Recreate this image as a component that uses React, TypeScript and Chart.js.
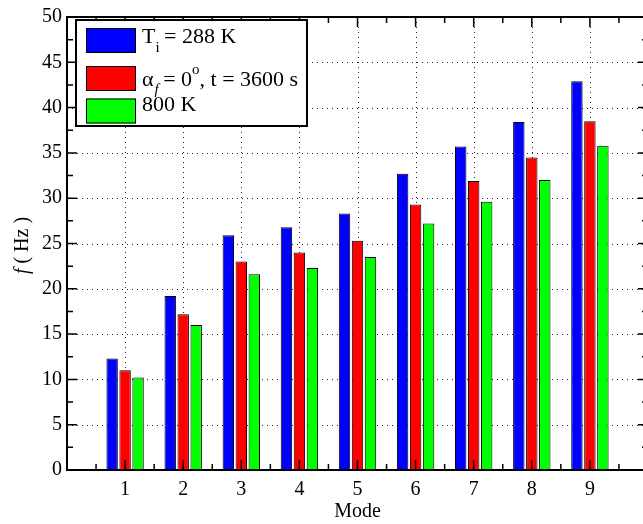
import React, { useEffect, useRef } from "react";
import { Chart, registerables } from "chart.js";

Chart.register(...registerables);

// Natural frequencies per vibration mode
const modes = [1, 2, 3, 4, 5, 6, 7, 8, 9];
const freqT288 = [12.3, 19.2, 25.9, 26.8, 28.3, 32.7, 35.7, 38.4, 42.9];
const freqAlpha0 = [11.0, 17.2, 23.0, 24.0, 25.3, 29.3, 31.9, 34.5, 38.5];
const freq800K = [10.2, 16.0, 21.6, 22.3, 23.5, 27.2, 29.6, 32.0, 35.8];
const yTicks = [0, 5, 10, 15, 20, 25, 30, 35, 40, 45, 50];

const SERIF = '"Liberation Serif", "Times New Roman", serif';
const AXIS_FONT = { family: SERIF, size: 20 };

type Part = { t: string; size?: number; dy?: number; italic?: boolean; dx?: number };

function drawRich(ctx: CanvasRenderingContext2D, x: number, baseline: number, parts: Part[]) {
  let cx = x;
  for (const p of parts) {
    const size = p.size ?? 22;
    ctx.font = `${p.italic ? "italic " : ""}${size}px ${SERIF}`;
    cx += p.dx ?? 0;
    ctx.fillText(p.t, cx, baseline + (p.dy ?? 0));
    cx += ctx.measureText(p.t).width;
  }
}

// Dotted grid behind the bars
const gridPlugin = {
  id: "dottedGrid",
  beforeDatasetsDraw(chart: any) {
    const { ctx, chartArea: a, scales } = chart;
    const x = scales.x;
    const y = scales.y;
    ctx.save();
    ctx.strokeStyle = "#222";
    ctx.lineWidth = 1;
    ctx.setLineDash([1, 4]);
    for (const v of yTicks.slice(1, -1)) {
      const py = Math.round(y.getPixelForValue(v)) + 0.5;
      ctx.beginPath();
      ctx.moveTo(a.left, py);
      ctx.lineTo(a.right, py);
      ctx.stroke();
    }
    for (const m of modes) {
      const px = Math.round(x.getPixelForValue(m)) + 0.5;
      ctx.beginPath();
      ctx.moveTo(px, a.top);
      ctx.lineTo(px, a.bottom);
      ctx.stroke();
    }
    ctx.restore();
  },
};

// Box frame with inward ticks, legend and y-axis title
const framePlugin = {
  id: "frameAndLegend",
  afterDatasetsDraw(chart: any) {
    const { ctx, chartArea: a, scales } = chart;
    const x = scales.x;
    const y = scales.y;
    ctx.save();
    ctx.strokeStyle = "#000";
    ctx.setLineDash([]);

    // ticks
    ctx.lineWidth = 1.5;
    const major = 10;
    const minor = 6;
    for (let v = 0; v <= 50; v += 2.5) {
      const py = y.getPixelForValue(v);
      const len = v % 5 === 0 ? major : minor;
      ctx.beginPath();
      ctx.moveTo(a.left, py);
      ctx.lineTo(a.left + len, py);
      ctx.moveTo(a.right, py);
      ctx.lineTo(a.right - len, py);
      ctx.stroke();
    }
    for (let v = 0.5; v < 10; v += 0.5) {
      const px = x.getPixelForValue(v);
      const len = v % 1 === 0 ? major : minor;
      ctx.beginPath();
      ctx.moveTo(px, a.bottom);
      ctx.lineTo(px, a.bottom - len);
      ctx.moveTo(px, a.top);
      ctx.lineTo(px, a.top + len);
      ctx.stroke();
    }

    // frame
    ctx.lineWidth = 2;
    ctx.strokeRect(a.left, a.top, a.right - a.left, a.bottom - a.top);

    // legend
    const bx = 76, by = 20, bw = 231, bh = 106;
    ctx.fillStyle = "#fff";
    ctx.fillRect(bx, by, bw, bh);
    ctx.lineWidth = 2;
    ctx.strokeRect(bx, by, bw, bh);

    const rows = [
      { color: "#0000ff", sy: 28, base: 43, parts: [{ t: "T" }, { t: "i", size: 15, dy: 9 }, { t: " = 288 K", dx: -1 }] },
      {
        color: "#ff0000",
        sy: 66,
        base: 86,
        parts: [
          { t: "α" },
          { t: "f", size: 15, dy: 8, italic: true, dx: 1 },
          { t: " = 0", dx: -1 },
          { t: "o", size: 15, dy: -12 },
          { t: ", t = 3600 s" },
        ],
      },
      { color: "#00ff00", sy: 98.5, base: 111, parts: [{ t: "800 K" }] },
    ];
    for (const r of rows) {
      ctx.fillStyle = r.color;
      ctx.fillRect(86, r.sy, 50, 25);
      ctx.lineWidth = 1;
      ctx.strokeRect(86.5, r.sy + 0.5, 49, 24);
      ctx.fillStyle = "#000";
      ctx.textBaseline = "alphabetic";
      ctx.textAlign = "left";
      drawRich(ctx, 142, r.base, r.parts);
    }

    // y-axis title: f ( Hz )
    ctx.translate(28, (a.top + a.bottom) / 2 + 2);
    ctx.rotate(-Math.PI / 2);
    ctx.fillStyle = "#000";
    ctx.textBaseline = "alphabetic";
    ctx.font = `italic 20px ${SERIF}`;
    const fW = ctx.measureText("f").width;
    ctx.font = `20px ${SERIF}`;
    const restW = ctx.measureText(" ( Hz )").width;
    const startX = -(fW + restW) / 2;
    ctx.font = `italic 20px ${SERIF}`;
    ctx.fillText("f", startX, 0);
    ctx.font = `20px ${SERIF}`;
    ctx.fillText(" ( Hz )", startX + fW, 0);

    ctx.restore();
  },
};

const seriesDefs = [
  { label: "T_i = 288 K", values: freqT288, color: "#0000ff" },
  { label: "alpha_f = 0, t = 3600 s", values: freqAlpha0, color: "#ff0000" },
  { label: "800 K", values: freq800K, color: "#00ff00" },
];

export default function App() {
  const canvasRef = useRef<HTMLCanvasElement | null>(null);

  useEffect(() => {
    if (!canvasRef.current) return;
    const chart = new Chart(canvasRef.current, {
      type: "bar",
      data: {
        datasets: seriesDefs.map((s) => ({
          label: s.label,
          data: modes.map((m, i) => ({ x: m, y: s.values[i] })),
          backgroundColor: s.color,
          borderColor: "#000",
          borderWidth: 1,
          barPercentage: 0.88,
          categoryPercentage: 0.67,
        })),
      },
      options: {
        responsive: false,
        animation: false,
        devicePixelRatio: 1,
        layout: { padding: { left: 0, right: 12, top: 12, bottom: 0 } },
        plugins: { legend: { display: false }, tooltip: { enabled: false } },
        scales: {
          x: {
            type: "linear",
            offset: false,
            min: 0,
            max: 10,
            grid: { display: false, drawTicks: false, offset: false },
            border: { display: false },
            ticks: {
              stepSize: 1,
              autoSkip: false,
              maxRotation: 0,
              font: AXIS_FONT,
              color: "#000",
              padding: 8,
              callback: (v: any) => (v >= 1 && v <= 9 ? String(v) : ""),
            },
            title: { display: true, text: "Mode", font: AXIS_FONT, color: "#000", padding: { top: 0, bottom: 0 } },
            afterFit: (s: any) => {
              s.height = 54;
            },
          },
          y: {
            min: 0,
            max: 50,
            grid: { display: false, drawTicks: false },
            border: { display: false },
            ticks: { stepSize: 5, font: AXIS_FONT, color: "#000", padding: 5 },
            afterFit: (s: any) => {
              s.width = 67;
            },
          },
        },
      } as any,
      plugins: [gridPlugin, framePlugin],
    });
    return () => chart.destroy();
  }, []);

  return (
    <div style={{ position: "fixed", left: 0, top: 0, width: 643, height: 524, overflow: "hidden", background: "#fff" }}>
      <canvas ref={canvasRef} width={660} height={524} style={{ display: "block", width: 660, height: 524 }} />
    </div>
  );
}
